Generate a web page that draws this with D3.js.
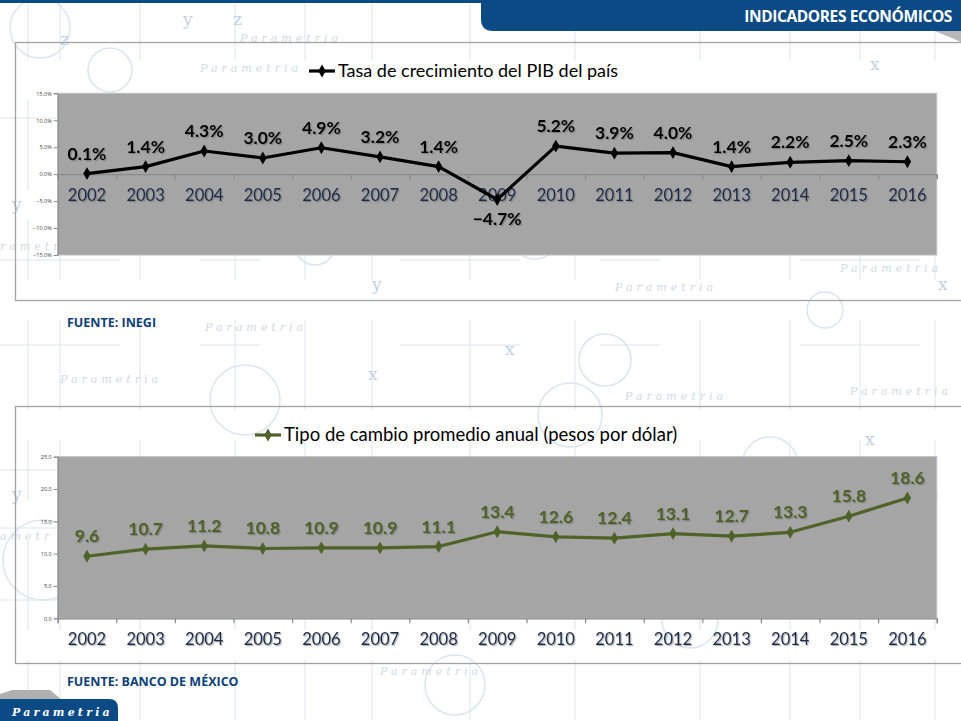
<!DOCTYPE html>
<html>
<head>
<meta charset="utf-8">
<script src="https://cdn.jsdelivr.net/npm/d3@7"></script>
<style>
  body { margin: 0; background: #fff; }
  svg { display: block; }
</style>
</head>
<body>
<div id="chart"></div>
<script>
// data
const years = ["2002","2003","2004","2005","2006","2007","2008","2009","2010","2011","2012","2013","2014","2015","2016"];
const pibGrowth = [0.1, 1.4, 4.3, 3.0, 4.9, 3.2, 1.4, -4.7, 5.2, 3.9, 4.0, 1.4, 2.2, 2.5, 2.3];
const exchangeRate = [9.6, 10.7, 11.2, 10.8, 10.9, 10.9, 11.1, 13.4, 12.6, 12.4, 13.1, 12.7, 13.3, 15.8, 18.6];
const pibTicks = [-15, -10, -5, 0, 5, 10, 15];
const fxTicks = [0, 5, 10, 15, 20, 25];

const W = 961, H = 721;
const navy = "#0b4a85";
const wm = "#dbe5ef";

const svg = d3.select("#chart").append("svg")
    .attr("width", W).attr("height", H);

const defs = svg.append("defs");
const shadow = defs.append("filter").attr("id", "txtShadow")
    .attr("x", "-10%").attr("y", "-10%").attr("width", "130%").attr("height", "140%");
shadow.append("feDropShadow")
    .attr("dx", 1.2).attr("dy", 1.2).attr("stdDeviation", 0.6)
    .attr("flood-color", "#555").attr("flood-opacity", 0.45);

svg.append("rect").attr("width", W).attr("height", H).attr("fill", "#fff");

// faint background watermark (decoration only)
const bg = svg.append("g").attr("class", "watermark");
const circles = [[40, 28, 30], [110, 70, 22], [315, 245, 20], [535, 235, 24], [645, 152, 30], [825, 310, 18],
    [605, 360, 26], [245, 400, 35], [570, 415, 32], [770, 465, 28], [915, 495, 22], [43, 560, 40],
    [455, 685, 30], [690, 620, 28], [900, 575, 26], [160, 520, 20], [390, 120, 25]];
bg.selectAll("circle").data(circles).join("circle")
    .attr("cx", d => d[0]).attr("cy", d => d[1]).attr("r", d => d[2])
    .attr("fill", "none").attr("stroke", wm).attr("stroke-width", 1.5);
const vlines = [28, 60, 140, 235, 305, 372, 470, 575, 700, 790, 860, 935];
bg.selectAll("line.v").data(vlines).join("line").attr("class", "v")
    .attr("x1", d => d).attr("x2", d => d).attr("y1", 0).attr("y2", H)
    .attr("stroke", wm).attr("stroke-width", 1).attr("stroke-dasharray", "60 40 90 30");
const hlines = [118, 260, 345, 470, 528, 600];
bg.selectAll("line.h").data(hlines).join("line").attr("class", "h")
    .attr("x1", 0).attr("x2", W).attr("y1", d => d).attr("y2", d => d)
    .attr("stroke", wm).attr("stroke-width", 1).attr("stroke-dasharray", "120 80 60 140");
const wmText = [[200, 72, "Parametria"], [240, 42, "Parametria"], [840, 272, "Parametria"], [205, 331, "Parametria"],
    [615, 291, "Parametria"], [60, 383, "Parametria"], [850, 395, "Parametria"], [380, 675, "Parametria"],
    [625, 400, "Parametria"], [0, 250, "rametr"], [0, 540, "ametr"]];
bg.selectAll("text.wm").data(wmText).join("text").attr("class", "wm")
    .attr("x", d => d[0]).attr("y", d => d[1]).text(d => d[2])
    .attr("font-family", "DejaVu Serif").attr("font-style", "italic").attr("font-size", 11)
    .attr("letter-spacing", 4).attr("fill", "#cfdbe7");
const wmLetters = [[12, 210, "y"], [60, 45, "z"], [372, 290, "y"], [938, 290, "x"], [368, 380, "x"], [505, 355, "x"],
    [12, 500, "y"], [865, 445, "x"], [233, 25, "z"], [183, 25, "y"], [870, 70, "x"], [505, 470, "z"]];
bg.selectAll("text.lt").data(wmLetters).join("text").attr("class", "lt")
    .attr("x", d => d[0]).attr("y", d => d[1]).text(d => d[2])
    .attr("font-family", "DejaVu Serif").attr("font-size", 17).attr("fill", "#c2d1e1");

// header band and tab
svg.append("rect").attr("x", 0).attr("y", 0).attr("width", W).attr("height", 3).attr("fill", navy);
svg.append("path")
    .attr("d", "M481,0 H961 V31 H493 Q481,31 481,19 Z")
    .attr("fill", navy);
svg.append("path")
    .attr("d", "M935,31 L961,31 L961,42 Z").attr("fill", "#b8b8b8");
svg.append("text")
    .attr("x", 952).attr("y", 22).attr("text-anchor", "end")
    .attr("font-family", "Open Sans").attr("font-weight", "bold").attr("font-size", 15.5)
    .attr("letter-spacing", -0.4)
    .attr("fill", "#fff").text("INDICADORES ECONÓMICOS");

// bottom-left brand tab
svg.append("path").attr("d", "M12,690 L50,690 L62,700 L0,700 L0,694 Z").attr("fill", "#b0b0b0");
svg.append("path")
    .attr("d", "M0,699 H109 Q118,699 118,708 V721 H0 Z")
    .attr("fill", navy);
svg.append("text")
    .attr("x", 12).attr("y", 716)
    .attr("font-family", "DejaVu Serif").attr("font-style", "italic").attr("font-weight", "bold")
    .attr("font-size", 11).attr("letter-spacing", 3.2).attr("fill", "#fff").text("Parametria");

function drawChart(cfg) {
    const g = svg.append("g");

    // outer frame
    g.append("rect")
        .attr("x", 15.5).attr("y", cfg.frameTop + 0.5)
        .attr("width", 960).attr("height", cfg.frameBottom - cfg.frameTop)
        .attr("fill", "none").attr("stroke", "#a3a3a3").attr("stroke-width", 1.3);

    const left = 57.7, right = 936.7;
    const x = d3.scaleBand().domain(years).range([left, right]).paddingInner(0).paddingOuter(0);
    const xEdge = d3.scaleLinear().domain([0, years.length]).range([left, right]);
    const y = d3.scaleLinear().domain(cfg.domain).range([cfg.plotBottom, cfg.plotTop]);

    // plot area
    g.append("rect")
        .attr("x", left).attr("y", cfg.plotTop)
        .attr("width", right - left).attr("height", cfg.plotBottom - cfg.plotTop)
        .attr("fill", "#a5a5a5").attr("stroke", "#bdbdbd").attr("stroke-width", 1);

    // y axis
    const yAxis = d3.axisLeft(y).tickValues(cfg.ticks).tickSize(4).tickPadding(2)
        .tickFormat(cfg.tickFormat);
    const yG = g.append("g").attr("transform", `translate(${left},0)`).call(yAxis);
    yG.select(".domain").attr("stroke", "#8c8c8c");
    yG.selectAll(".tick line").attr("stroke", "#8c8c8c");
    yG.selectAll(".tick text").attr("font-family", "Open Sans").attr("font-size", 5.5).attr("fill", "#404040");

    // x axis: boundary ticks
    const axisY = y(cfg.axisAt);
    const edgeAxis = d3.axisBottom(xEdge).tickValues(d3.range(0, years.length + 1))
        .tickSize(5).tickFormat("");
    const eG = g.append("g").attr("transform", `translate(0,${axisY})`).call(edgeAxis);
    eG.select(".domain").attr("stroke", "#8a8a8a").attr("stroke-width", 1.2);
    eG.selectAll(".tick line").attr("stroke", "#8a8a8a").attr("stroke-width", 1.2);

    // year labels
    const yearAxis = d3.axisBottom(x).tickSize(0).tickPadding(15);
    const yrG = g.append("g").attr("transform", `translate(0,${axisY})`).call(yearAxis);
    yrG.select(".domain").remove();
    yrG.selectAll(".tick text")
        .attr("font-family", "Lato").attr("font-size", 16.5).attr("fill", "#1b2a48")
        .attr("filter", "url(#txtShadow)");

    // series line
    const cx = i => x(years[i]) + x.bandwidth() / 2;
    const line = d3.line().x((d, i) => cx(i)).y(d => y(d));
    g.append("path").datum(cfg.values)
        .attr("d", line).attr("fill", "none")
        .attr("stroke", cfg.color).attr("stroke-width", 3.2).attr("stroke-linejoin", "round");

    const diamond = d3.symbol().type(d3.symbolDiamond).size(48);
    g.selectAll("path.pt").data(cfg.values).join("path").attr("class", "pt")
        .attr("d", diamond())
        .attr("transform", (d, i) => `translate(${cx(i)},${y(d)})`)
        .attr("fill", cfg.color);

    // data labels
    g.selectAll("text.lbl").data(cfg.values).join("text").attr("class", "lbl")
        .attr("x", (d, i) => cx(i))
        .attr("y", d => d < 0 ? y(d) + 26 : y(d) - 14)
        .attr("text-anchor", "middle")
        .attr("font-family", "Lato").attr("font-weight", "bold").attr("font-size", 17.5)
        .attr("fill", cfg.color).attr("filter", "url(#txtShadow)")
        .text(cfg.labelFormat);

    // legend title
    const tg = g.append("g");
    const titleText = tg.append("text")
        .attr("x", cfg.titleX).attr("y", cfg.titleY)
        .attr("font-family", "Lato").attr("font-size", cfg.titleSize).attr("fill", "#000")
        .text(cfg.title);
    const tb = titleText.node().getBBox();
    const lx0 = tb.x - 29, lx1 = tb.x - 3, ly = cfg.titleY - 6;
    tg.append("line").attr("x1", lx0).attr("x2", lx1).attr("y1", ly).attr("y2", ly)
        .attr("stroke", cfg.color).attr("stroke-width", 3.2);
    tg.append("path").attr("d", diamond())
        .attr("transform", `translate(${(lx0 + lx1) / 2},${ly})`).attr("fill", cfg.color);

    // source note
    svg.append("text")
        .attr("x", 67).attr("y", cfg.sourceY)
        .attr("font-family", "Open Sans").attr("font-weight", "bold").attr("font-size", 12.5)
        .attr("fill", "#0d3f7a").text(cfg.source);
}

drawChart({
    values: pibGrowth,
    domain: [-15, 15],
    ticks: pibTicks,
    tickFormat: d => d3.format(".1f")(d) + "%",
    labelFormat: d => d3.format(".1f")(d) + "%",
    axisAt: 0,
    color: "#000000",
    frameTop: 42, frameBottom: 300,
    plotTop: 93.3, plotBottom: 255,
    title: "Tasa de crecimiento del PIB del país",
    titleX: 338, titleY: 77, titleSize: 18,
    source: "FUENTE: INEGI", sourceY: 327
});

drawChart({
    values: exchangeRate,
    domain: [0, 25],
    ticks: fxTicks,
    tickFormat: d3.format(".1f"),
    labelFormat: d3.format(".1f"),
    axisAt: 0,
    color: "#4f6228",
    frameTop: 406, frameBottom: 663,
    plotTop: 456.7, plotBottom: 618.3,
    title: "Tipo de cambio promedio anual (pesos por dólar)",
    titleX: 284, titleY: 441, titleSize: 18.5,
    source: "FUENTE: BANCO DE MÉXICO", sourceY: 686
});
</script>
</body>
</html>
